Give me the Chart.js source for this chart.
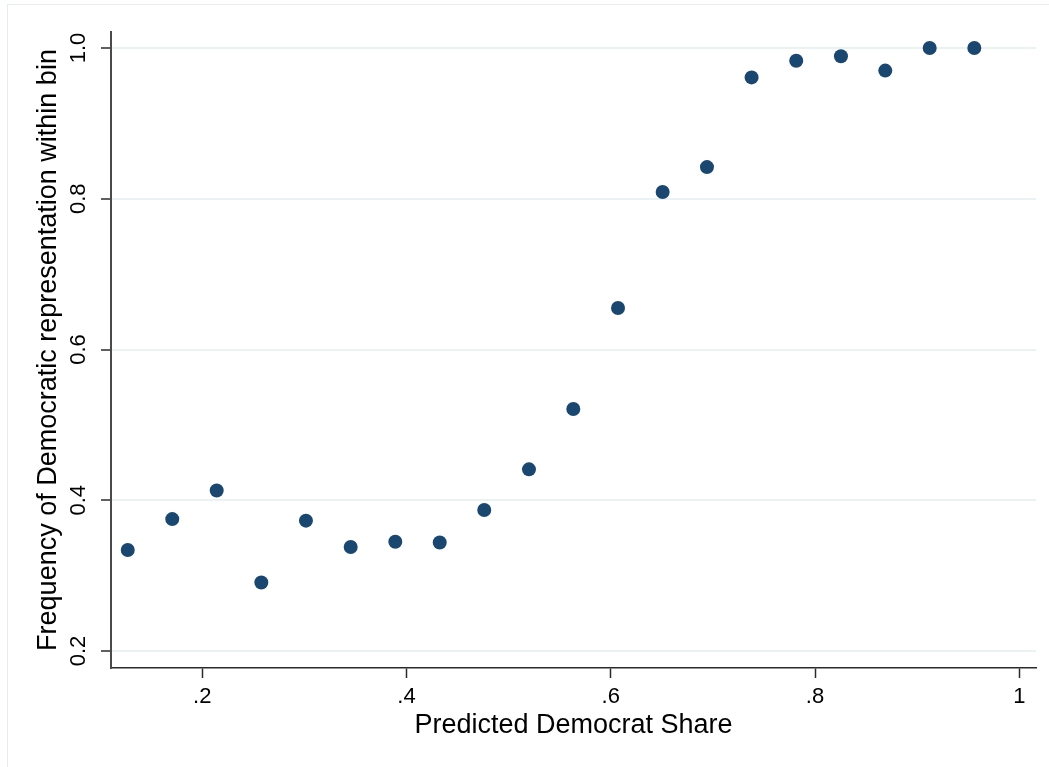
<!DOCTYPE html>
<html>
<head>
<meta charset="utf-8">
<title>Frequency of Democratic representation by predicted share</title>
<script src="https://cdn.jsdelivr.net/npm/chart.js@4/dist/chart.umd.min.js"></script>
<style>
  html, body { margin: 0; padding: 0; background: #ffffff; }
  #wrap { position: relative; width: 1049px; height: 767px; overflow: hidden; }
  #frame { position: absolute; left: 7px; top: 4px; width: 1050px; height: 780px;
           border: 1px solid #e6edf0; box-sizing: border-box; pointer-events: none; }
  canvas { position: absolute; left: 0; top: 0; }
</style>
</head>
<body>
<div id="wrap">
  <canvas id="chart" width="1049" height="767"></canvas>
  <div id="frame"></div>
</div>
<script>
// Bin midpoints of predicted Democrat share
const binShare = [0.1270, 0.1706, 0.2141, 0.2578, 0.3015, 0.3453, 0.3890, 0.4325, 0.4761, 0.5199,
                  0.5633, 0.6071, 0.6508, 0.6942, 0.7379, 0.7816, 0.8254, 0.8688, 0.9123, 0.9560];
// Share of districts with Democratic representation in each bin
const demFrequency = [0.334, 0.375, 0.413, 0.291, 0.373, 0.338, 0.345, 0.344, 0.387, 0.441,
                      0.521, 0.655, 0.809, 0.842, 0.961, 0.983, 0.989, 0.970, 1.000, 1.000];

const xTickValues = [0.2, 0.4, 0.6, 0.8, 1.0];
const xTickLabels = ['.2', '.4', '.6', '.8', '1'];
const yTickValues = [0.2, 0.4, 0.6, 0.8, 1.0];
const yTickLabels = ['0.2', '0.4', '0.6', '0.8', '1.0'];

const xTitle = 'Predicted Democrat Share';
const yTitle = 'Frequency of Democratic representation within bin';

const points = binShare.map((x, i) => ({ x: x, y: demFrequency[i] }));

const FONT = '"Liberation Sans", Arial, Helvetica, sans-serif';

function fixTicks(values) {
  return function (scale) {
    scale.ticks = values.map(v => ({ value: v }));
  };
}
function labelFor(values, labels) {
  return function (value) {
    const i = values.findIndex(v => Math.abs(v - value) < 1e-9);
    return i >= 0 ? labels[i] : '';
  };
}

new Chart(document.getElementById('chart'), {
  type: 'scatter',
  data: {
    datasets: [{
      data: points,
      backgroundColor: '#1a476f',
      borderColor: '#1a476f',
      borderWidth: 0,
      pointRadius: 7,
      pointHoverRadius: 7
    }]
  },
  options: {
    responsive: false,
    animation: false,
    devicePixelRatio: 1,
    layout: { padding: { left: 0, top: 32, right: 13, bottom: 0 } },
    plugins: {
      legend: { display: false },
      tooltip: { enabled: false }
    },
    scales: {
      x: {
        type: 'linear',
        min: 0.1106,
        max: 1.0164,
        afterBuildTicks: fixTicks(xTickValues),
        afterFit: s => { s.height = 99; },
        border: { display: true, color: '#2b2b2b', width: 1.5 },
        grid: { drawOnChartArea: false, drawTicks: true, tickLength: 10, tickColor: '#2b2b2b', tickWidth: 1.5 },
        ticks: {
          autoSkip: false,
          maxRotation: 0,
          padding: 6,
          color: '#000000',
          font: { family: FONT, size: 22 },
          callback: labelFor(xTickValues, xTickLabels)
        },
        title: {
          display: true,
          text: xTitle,
          color: '#000000',
          font: { family: FONT, size: 27 },
          padding: { top: 0, bottom: 25 }
        }
      },
      y: {
        type: 'linear',
        min: 0.1775,
        max: 1.0212,
        afterBuildTicks: fixTicks(yTickValues),
        afterFit: s => { s.width = 111; },
        border: { display: true, color: '#4a4a4a', width: 2 },
        grid: { drawOnChartArea: true, color: '#eaf2f3', lineWidth: 2,
                drawTicks: true, tickLength: 10, tickColor: '#2b2b2b', tickWidth: 1.5 },
        ticks: {
          autoSkip: false,
          minRotation: 90,
          maxRotation: 90,
          crossAlign: 'center',
          padding: 7,
          color: '#000000',
          font: { family: FONT, size: 22 },
          callback: labelFor(yTickValues, yTickLabels)
        },
        title: {
          display: true,
          text: yTitle,
          color: '#000000',
          font: { family: FONT, size: 27 },
          padding: { top: 32, bottom: 0 }
        }
      }
    }
  }
});
</script>
</body>
</html>
